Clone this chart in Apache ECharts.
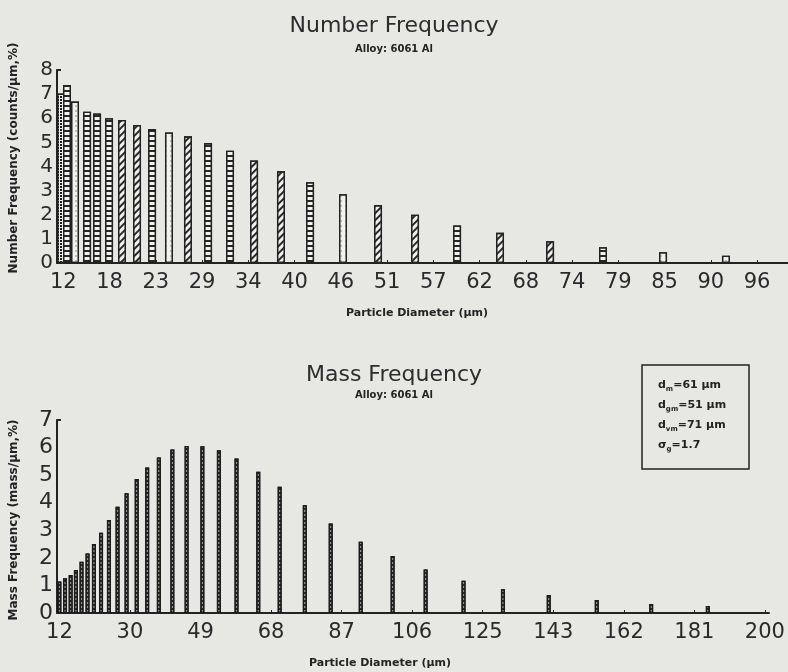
<!DOCTYPE html>
<html>
<head>
<meta charset="utf-8">
<script src="https://cdn.jsdelivr.net/npm/echarts@6/dist/echarts.min.js"></script>
<style>
html,body{margin:0;padding:0;background:#e7e7e4;}
#c{width:788px;height:672px;}
</style>
</head>
<body>
<div id="c"></div>
<script>
// ---- Number frequency (top) ----
const numDiameters = [11.73, 12.45, 13.42, 14.88, 16.09, 17.54, 19.11, 20.93, 22.75, 24.80, 27.10, 29.53, 32.19, 35.10, 38.36, 41.88, 45.87, 50.11, 54.59, 59.68, 64.88, 70.94, 77.35, 84.62, 92.24];
const numFrequency = [7.03, 7.38, 6.69, 6.27, 6.2, 6.0, 5.93, 5.72, 5.55, 5.41, 5.25, 4.97, 4.65, 4.25, 3.8, 3.35, 2.85, 2.4, 2.0, 1.55, 1.25, 0.9, 0.65, 0.45, 0.3];
const numTickValues = [12, 17.6, 23.2, 28.8, 34.4, 40, 45.6, 51.2, 56.8, 62.4, 68, 73.6, 79.2, 84.8, 90.4, 96];
const numTickLabels = ['12','18','23','29','34','40','46','51','57','62','68','74','79','85','90','96'];

// ---- Mass frequency (bottom) ----
const massDiameters = [12.0, 13.5, 15.0, 16.4, 17.9, 19.5, 21.2, 23.1, 25.2, 27.5, 29.9, 32.6, 35.4, 38.5, 42.1, 45.9, 50.1, 54.5, 59.2, 65.0, 70.7, 77.4, 84.3, 92.3, 100.8, 109.6, 119.7, 130.2, 142.4, 155.2, 169.7, 184.8];
const massFrequency = [1.14, 1.26, 1.38, 1.56, 1.86, 2.16, 2.5, 2.91, 3.37, 3.85, 4.34, 4.86, 5.28, 5.64, 5.93, 6.06, 6.05, 5.9, 5.6, 5.12, 4.58, 3.91, 3.25, 2.58, 2.07, 1.58, 1.17, 0.86, 0.65, 0.47, 0.33, 0.25];
const massTickValues = [12, 30.8, 49.6, 68.4, 87.2, 106, 124.8, 143.6, 162.4, 181.2, 200];
const massTickLabels = ['12','30','49','68','87','106','125','143','162','181','200'];

const statLines = [['d','m','=61 µm'],['d','gm','=51 µm'],['d','vm','=71 µm'],['σ','g','=1.7']];

// ---- styles ----
const INK = '#232323';
const FONT = 'DejaVu Sans';
const decals = {
  ladder: {symbol:'rect', symbolSize:1, dashArrayX:[1,0], dashArrayY:[1.4,2.4], color:'#262626'},
  diag:   {symbol:'rect', symbolSize:1, dashArrayX:[1,0], dashArrayY:[1.2,2.4], rotation:-Math.PI/4, color:'#2a2a2a'},
  dots:   {symbol:'circle', symbolSize:0.7, dashArrayX:[2,3], dashArrayY:[2,3], color:'#666'},
  dense:  {symbol:'rect', symbolSize:1, dashArrayX:[1.5,1], dashArrayY:[1.5,1], color:'#1c1c1c'}
};
const numPatternOrder = ['dense','ladder','dots','ladder','ladder','ladder','diag','diag','ladder','dots','diag','ladder','ladder','diag','diag','ladder','dots','diag','diag','ladder','diag','diag','ladder','dots','dots'];

function labelFor(values, labels){
  return function(v){
    for (let i=0;i<values.length;i++){ if (Math.abs(values[i]-v) < 1e-6) return labels[i]; }
    return '';
  };
}

const numData = numDiameters.map((d,i)=>({
  value:[d, numFrequency[i]],
  itemStyle:{decal: decals[numPatternOrder[i]]}
}));
const massData = massDiameters.map((d,i)=>[d, massFrequency[i]]);

const chart = echarts.init(document.getElementById('c'), null, {renderer:'canvas'});

const statGraphics = statLines.map((ln,i)=>({
  type:'text', left:658, top:380 + i*20,
  style:{
    text:'{m|'+ln[0]+'}{s|'+ln[1]+'}{m|'+ln[2]+'}',
    rich:{
      m:{fontFamily:FONT, fontSize:11, fontWeight:'bold', fill:INK, lineHeight:14, verticalAlign:'middle'},
      s:{fontFamily:FONT, fontSize:7, fontWeight:'bold', fill:INK, lineHeight:14, verticalAlign:'bottom'}
    }
  }
}));

chart.setOption({
  backgroundColor:'#e7e7e4',
  animation:false,
  title:[
    {text:'Number Frequency', left:'center', top:10, textStyle:{fontFamily:FONT, fontSize:22, fontWeight:'normal', color:'#2c2c2c'}},
    {text:'Alloy: 6061 Al', left:'center', top:39, textStyle:{fontFamily:FONT, fontSize:10, fontWeight:'bold', color:INK}},
    {text:'Mass Frequency', left:'center', top:359, textStyle:{fontFamily:FONT, fontSize:22, fontWeight:'normal', color:'#2c2c2c'}},
    {text:'Alloy: 6061 Al', left:'center', top:385, textStyle:{fontFamily:FONT, fontSize:10, fontWeight:'bold', color:INK}}
  ],
  grid:[
    {left:57, top:70, width:731, height:193, containLabel:false},
    {left:57, top:420, width:712, height:193, containLabel:false}
  ],
  xAxis:[
    {type:'value', gridIndex:0, min:11.24, max:99.75,
     axisLine:{show:true, onZero:false, lineStyle:{color:INK, width:2}},
     axisTick:{show:true, inside:true, length:3, customValues:numTickValues, lineStyle:{color:INK, width:1}},
     axisLabel:{customValues:numTickValues, formatter:labelFor(numTickValues,numTickLabels), fontFamily:FONT, fontSize:21, color:'#2a2a2a', margin:9, showMinLabel:true, showMaxLabel:true},
     splitLine:{show:false}},
    {type:'value', gridIndex:1, min:11.36, max:201.1,
     axisLine:{show:true, onZero:false, lineStyle:{color:INK, width:2}},
     axisTick:{show:true, inside:true, length:3, customValues:massTickValues, lineStyle:{color:INK, width:1}},
     axisLabel:{customValues:massTickValues, formatter:labelFor(massTickValues,massTickLabels), fontFamily:FONT, fontSize:21, color:'#2a2a2a', margin:9, showMinLabel:true, showMaxLabel:true},
     splitLine:{show:false}}
  ],
  yAxis:[
    {type:'value', gridIndex:0, min:0, max:8, interval:1,
     axisLine:{show:true, lineStyle:{color:INK, width:2}},
     axisTick:{show:true, inside:true, length:4, customValues:[8], lineStyle:{color:INK, width:2}},
     axisLabel:{fontFamily:FONT, fontSize:20, color:'#2a2a2a', margin:4},
     splitLine:{show:false}},
    {type:'value', gridIndex:1, min:0, max:7, interval:1,
     axisLine:{show:true, lineStyle:{color:INK, width:2}},
     axisTick:{show:true, inside:true, length:4, customValues:[7], lineStyle:{color:INK, width:2}},
     axisLabel:{fontFamily:FONT, fontSize:22, color:'#2a2a2a', margin:4},
     splitLine:{show:false}}
  ],
  series:[
    {type:'bar', xAxisIndex:0, yAxisIndex:0, barWidth:8, data:numData,
     itemStyle:{color:'#f1f1ee', borderColor:'#222', borderWidth:1.3}},
    {type:'bar', xAxisIndex:1, yAxisIndex:1, barWidth:4, data:massData,
     itemStyle:{color:'#8f8f8c', borderColor:'#1a1a1a', borderWidth:1.2,
       decal:{symbol:'rect', symbolSize:1, dashArrayX:[1,0], dashArrayY:[1.5,1.5], color:'#262626'}}}
  ],
  graphic:[
    {type:'text', x:14, y:158, rotation:Math.PI/2,
     style:{text:'Number Frequency (counts/µm,%)', fontFamily:FONT, fontSize:12, fontWeight:'bold', fill:INK, align:'center', verticalAlign:'middle'}},
    {type:'text', x:14, y:520, rotation:Math.PI/2,
     style:{text:'Mass Frequency (mass/µm,%)', fontFamily:FONT, fontSize:12, fontWeight:'bold', fill:INK, align:'center', verticalAlign:'middle'}},
    {type:'text', x:417, y:313,
     style:{text:'Particle Diameter (µm)', fontFamily:FONT, fontSize:11, fontWeight:'bold', fill:INK, align:'center', verticalAlign:'middle'}},
    {type:'text', x:380, y:663,
     style:{text:'Particle Diameter (µm)', fontFamily:FONT, fontSize:11, fontWeight:'bold', fill:INK, align:'center', verticalAlign:'middle'}},
    {type:'rect', shape:{x:642, y:365, width:107, height:104}, style:{fill:'none', stroke:INK, lineWidth:1.5}}
  ].concat(statGraphics)
});
</script>
</body>
</html>
